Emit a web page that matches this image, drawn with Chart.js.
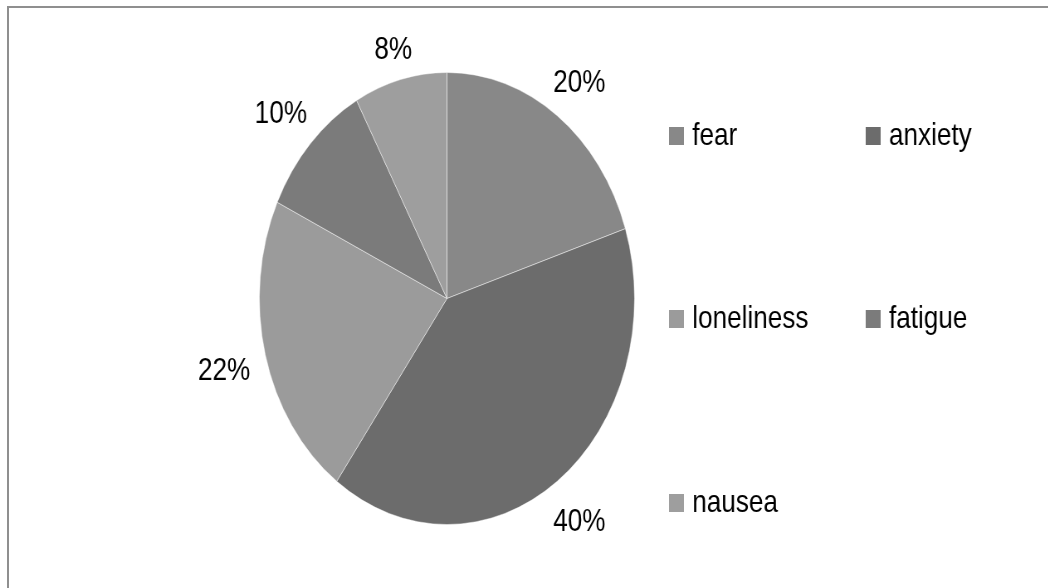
<!DOCTYPE html>
<html>
<head>
<meta charset="utf-8">
<script src="https://cdn.jsdelivr.net/npm/chart.js@4"></script>
<style>
  html, body { margin: 0; padding: 0; background: #fff; overflow: hidden; }
  #page { position: relative; width: 1048px; height: 588px; overflow: hidden; }
  /* the source picture is squeezed horizontally, so we draw wide and squeeze */
  #wrap { position: absolute; left: 0; top: 0; width: 1263px; height: 588px;
          transform: scaleX(0.83); transform-origin: 0 0; }
  #frame { position: absolute; left: 7px; top: 6px; width: 1060px; height: 600px;
           border-left: 2px solid #8f8f8f; border-top: 2px solid #8f8f8f; }
</style>
</head>
<body>
<div id="page">
  <div id="wrap"><canvas id="pie"></canvas></div>
  <div id="frame"></div>
</div>
<script>
// ===============================
// Data
// ===============================
const labels = ["fear", "anxiety", "loneliness", "fatigue", "nausea"];
const values = [20, 40, 22, 10, 8];
const sliceColors = ["#888888", "#6c6c6c", "#9b9b9b", "#7b7b7b", "#9e9e9e"];

const FONT = "31.5px 'Liberation Sans', Arial, sans-serif";

// ===============================
// Percent labels outside each slice
// ===============================
const outsideLabels = {
  id: "outsideLabels",
  afterDatasetsDraw(chart) {
    const ctx = chart.ctx;
    const meta = chart.getDatasetMeta(0);
    ctx.save();
    ctx.font = FONT;
    ctx.fillStyle = "#000";
    ctx.textAlign = "center";
    ctx.textBaseline = "middle";
    meta.data.forEach((arc, i) => {
      const mid = (arc.startAngle + arc.endAngle) / 2;
      const dx = Math.cos(mid), dy = Math.sin(mid);
      const txt = values[i] + "%";
      const w = ctx.measureText(txt).width;
      const reach = Math.abs(dx) * w / 2 + Math.abs(dy) * 11;
      const d = arc.outerRadius + 18 + reach;
      ctx.fillText(txt, arc.x + dx * d, arc.y + dy * d + 4);
    });
    ctx.restore();
  },
};

// ===============================
// Two-column legend on the right
// ===============================
const sideLegend = {
  id: "sideLegend",
  afterDraw(chart) {
    const ctx = chart.ctx;
    const cols = [806, 1043];
    const rows = [145, 328, 512];
    ctx.save();
    ctx.font = FONT;
    ctx.textBaseline = "alphabetic";
    ctx.textAlign = "left";
    labels.forEach((name, i) => {
      const x = cols[i % 2];
      const y = rows[Math.floor(i / 2)];
      ctx.fillStyle = sliceColors[i];
      ctx.fillRect(x, y - 18, 18, 18);
      ctx.fillStyle = "#000";
      ctx.fillText(name, x + 28, y);
    });
    ctx.restore();
  },
};

new Chart(document.getElementById("pie"), {
  type: "pie",
  data: {
    labels: labels,
    datasets: [
      {
        data: values,
        backgroundColor: sliceColors,
        borderColor: "rgba(255,255,255,0.45)",
        borderWidth: 1,
      },
    ],
  },
  options: {
    responsive: true,
    maintainAspectRatio: false,
    animation: false,
    layout: { padding: { left: 312, right: 498, top: 72, bottom: 63 } },
    plugins: { legend: { display: false }, tooltip: { enabled: false } },
  },
  plugins: [outsideLabels, sideLegend],
});
</script>
</body>
</html>
